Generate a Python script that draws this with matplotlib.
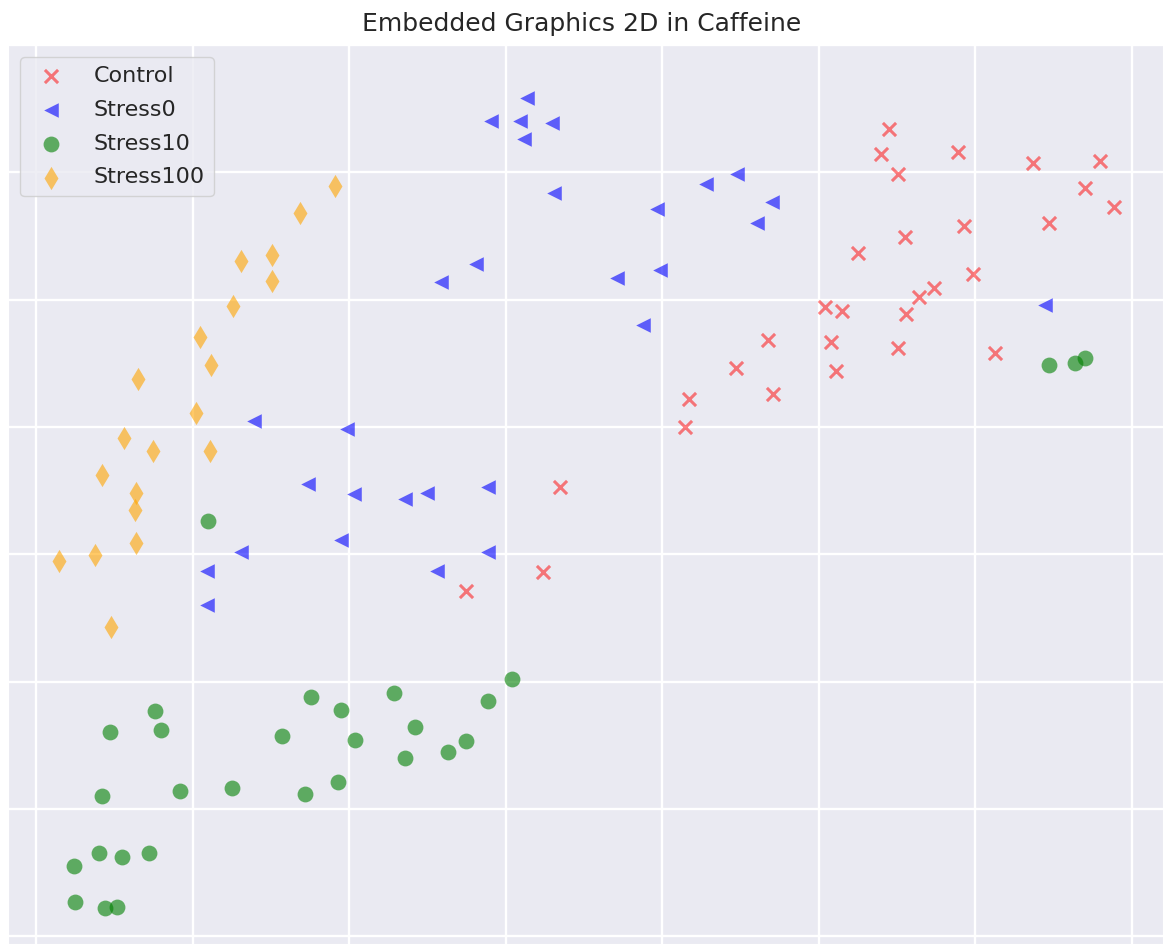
import matplotlib
matplotlib.use("Agg")
import matplotlib.pyplot as plt
import seaborn as sns
import numpy as np

sns.set_style("darkgrid")
plt.rcParams['font.family'] = ['DejaVu Sans']

# pixel-read positions converted to data units (grid spacing = 1 unit)
control_x = [5.45, 5.40, 5.51, 5.89, 6.37, 6.80, 6.70, 6.89, 6.47, 5.93, 5.55, 5.25, 5.99, 5.74, 5.64, 5.56, 5.04, 5.15, 4.68, 5.08, 5.51, 6.13, 4.47, 5.11, 4.71, 4.17, 4.15, 3.35, 3.24, 2.75]
control_y = [6.34, 6.14, 5.99, 6.16, 6.07, 6.09, 5.88, 5.73, 5.60, 5.58, 5.49, 5.37, 5.20, 5.09, 5.02, 4.89, 4.94, 4.91, 4.68, 4.67, 4.62, 4.58, 4.46, 4.44, 4.26, 4.22, 4.00, 3.53, 2.86, 2.71]

stress0_x = [3.14, 2.91, 3.09, 3.30, 3.12, 3.31, 4.48, 4.28, 4.70, 3.97, 4.61, 2.81, 2.59, 3.71, 3.99, 3.88, 6.45, 1.39, 1.99, 1.74, 2.03, 2.36, 2.50, 2.89, 1.95, 1.31, 2.89, 1.09, 2.56, 1.09]
stress0_y = [6.58, 6.40, 6.40, 6.39, 6.26, 5.84, 5.99, 5.91, 5.77, 5.71, 5.60, 5.28, 5.14, 5.17, 5.23, 4.80, 4.96, 4.05, 3.98, 3.55, 3.47, 3.43, 3.48, 3.53, 3.11, 3.02, 3.02, 2.87, 2.87, 2.60]

stress10_x = [6.47, 6.64, 6.70, 1.10, 3.04, 2.29, 1.76, 2.89, 0.76, 1.95, 0.47, 0.80, 2.42, 1.57, 2.04, 2.75, 2.63, 2.36, 1.93, 0.42, 0.92, 1.25, 1.72, 0.24, 0.40, 0.55, 0.72, 0.25, 0.44, 0.52]
stress10_y = [4.49, 4.50, 4.54, 3.26, 2.02, 1.91, 1.88, 1.85, 1.77, 1.78, 1.60, 1.62, 1.64, 1.57, 1.54, 1.53, 1.45, 1.40, 1.21, 1.10, 1.14, 1.16, 1.12, 0.55, 0.65, 0.62, 0.65, 0.27, 0.22, 0.23]

stress100_x = [1.91, 1.69, 1.31, 1.51, 1.51, 1.26, 1.05, 1.12, 0.65, 1.02, 0.56, 0.75, 1.11, 0.42, 0.64, 0.63, 0.64, 0.38, 0.15, 0.48]
stress100_y = [5.89, 5.68, 5.30, 5.35, 5.15, 4.95, 4.71, 4.49, 4.38, 4.11, 3.91, 3.81, 3.81, 3.62, 3.48, 3.35, 3.09, 2.99, 2.95, 2.43]

labels = ["Control", "Stress0", "Stress10", "Stress100"]

fig = plt.figure(figsize=(11.63, 9.44), dpi=100)
ax = fig.add_axes([8/1163, 0.0, 1 - 8/1163, (944 - 45)/944])

ax.scatter(control_x, control_y, marker='x', color='red', alpha=0.5, s=90, linewidths=2.2, label=labels[0])
ax.scatter(stress0_x, stress0_y, marker='<', color='blue', alpha=0.6, s=110, linewidths=0, label=labels[1])
ax.scatter(stress10_x, stress10_y, marker='o', color='green', alpha=0.6, s=130, linewidths=0, label=labels[2])
ax.scatter(stress100_x, stress100_y, marker='d', color='orange', alpha=0.6, s=140, linewidths=0, label=labels[3])

ax.set_xlim(-28/156.5, 1127/156.5)
ax.set_ylim(-8/129, 891/129)
ax.set_xticks(np.arange(0, 8))
ax.set_yticks(np.arange(0, 8))
ax.set_xticklabels([])
ax.set_yticklabels([])
ax.tick_params(length=0)
ax.grid(True, color='white', linewidth=1.7)

fig.text(0.5, 1 - 24/944, "Embedded Graphics 2D in Caffeine", ha='center', va='center', fontsize=18, color='#262626')

leg = ax.legend(loc='upper left', fontsize=16, frameon=True, borderaxespad=0.55, handletextpad=0.9, labelspacing=0.62)
leg.get_frame().set_facecolor('#eaeaf2')
leg.get_frame().set_edgecolor('#cccccc')

fig.savefig("out.png", dpi=100)
